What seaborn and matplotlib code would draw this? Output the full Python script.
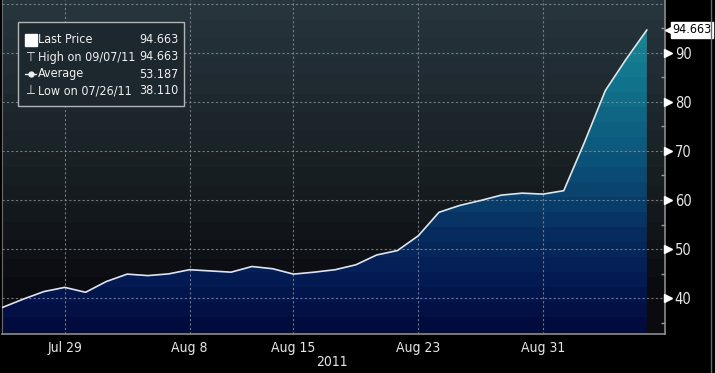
import numpy as np
import pandas as pd
import matplotlib
matplotlib.use("Agg")
import matplotlib.pyplot as plt
import matplotlib.transforms as mtransforms
from matplotlib.colors import LinearSegmentedColormap
from matplotlib.lines import Line2D
from matplotlib.patches import Rectangle
import seaborn as sns

# data (business days, 26 Jul - 7 Sep 2011)
dates = pd.bdate_range("2011-07-26", "2011-09-07")
prices = [38.11, 39.8, 41.35, 42.2, 41.2, 43.4, 44.9, 44.6, 44.95, 45.8,
          45.55, 45.3, 46.45, 46.0, 44.9, 45.3, 45.8, 46.8, 48.8, 49.7,
          52.7, 57.5, 58.9, 59.9, 61.0, 61.4, 61.2, 61.9, 71.8, 82.3,
          88.7, 94.663]

tick_dates = ["2011-07-29", "2011-08-08", "2011-08-15", "2011-08-23", "2011-08-31"]
tick_labels = ["Jul 29", "Aug 8", "Aug 15", "Aug 23", "Aug 31"]
y_ticks = [40, 50, 60, 70, 80, 90]
y_grid = [40, 50, 60, 70, 80, 90, 100]
y_minor = [35, 45, 55, 65, 75, 85, 95]

legend_labels = ["Last Price", "High on 09/07/11", "Average", "Low on 07/26/11"]
legend_values = ["94.663", "94.663", "53.187", "38.110"]
last_price = 94.663

sns.set_theme(style="dark")
plt.rcParams["font.family"] = ["DejaVu Sans"]
plt.rcParams["font.stretch"] = "condensed"

df = pd.DataFrame({"date": dates, "price": prices})
df["pos"] = np.arange(len(df))
tick_pos = [int(np.where(dates == pd.Timestamp(d))[0][0]) for d in tick_dates]

fig = plt.figure(figsize=(7.15, 3.73), dpi=100, facecolor="black")
ax = fig.add_axes([2 / 715, 1 - 334 / 373, 663 / 715, 334 / 373])
y0, y1 = 32.7, 100.75
x0, x1 = -0.02, 31.87
ax.set_xlim(x0, x1)
ax.set_ylim(y0, y1)
ax.set_facecolor("black")

# banded background of the plot area
bg_cmap = LinearSegmentedColormap.from_list("bg", [
    (0.0, "#0a0a0f"), (0.14, "#0b0c11"), (0.26, "#101318"),
    (0.40, "#151b1f"), (0.55, "#1a2227"), (0.75, "#1f2a31"), (1.0, "#26343c")], N=18)
grad = np.linspace(0, 1, 200).reshape(-1, 1)
ax.imshow(grad, extent=[x0, x1, y0, y1], origin="lower", aspect="auto",
          cmap=bg_cmap, interpolation="nearest", zorder=0)

# gradient area under the line
fill_cmap = LinearSegmentedColormap.from_list("fill", [
    (0.0, "#020b3e"), (0.12, "#031852"), (0.28, "#062c5e"),
    (0.42, "#0a436e"), (0.57, "#0c5a7d"), (0.72, "#106e89"), (0.90, "#178392"),
    (1.0, "#1a8a98")], N=22)
poly = ax.fill_between(df["pos"], df["price"], y0, facecolor="none", edgecolor="none")
im = ax.imshow(grad, extent=[x0, x1, y0, y1], origin="lower", aspect="auto",
               cmap=fill_cmap, interpolation="nearest", zorder=1)
im.set_clip_path(poly.get_paths()[0], ax.transData)

# grid
for y in y_grid:
    ax.axhline(y, color="#8a9096", lw=0.8, ls=(0, (2, 2)), alpha=0.8, zorder=2)
for p in tick_pos:
    ax.axvline(p, color="#8a9096", lw=0.8, ls=(0, (2, 2)), alpha=0.8, zorder=2)

sns.lineplot(data=df, x="pos", y="price", color="#e4e4e4", lw=1.2, ax=ax, zorder=4)
ax.set_xlabel("")
ax.set_ylabel("")

# axes styling
ax.spines["top"].set_visible(False)
for s in ["bottom", "right"]:
    ax.spines[s].set_color("#8c8c8c")
    ax.spines[s].set_linewidth(1.2)
ax.spines["left"].set_color("#6c6c6c")
ax.spines["left"].set_linewidth(0.8)

ax.set_xticks(tick_pos)
ax.set_xticklabels(tick_labels)
ax.set_xticks(df["pos"], minor=True)
ax.tick_params(axis="x", which="major", length=0, pad=5, labelsize=10, colors="#e6e6e6")
ax.tick_params(axis="x", which="minor", direction="in", length=3, width=1, color="#9a9a9a")

ax.yaxis.tick_right()
ax.set_yticks(y_ticks)
ax.set_yticklabels([str(v) for v in y_ticks])
ax.set_yticks(y_minor, minor=True)
ax.tick_params(axis="y", which="major", length=0, pad=7, labelsize=10.5, colors="#e6e6e6")
ax.tick_params(axis="y", which="minor", direction="in", length=3, width=1, color="#9a9a9a",
               left=False, right=True)

# tick triangles on the right axis
tr = mtransforms.blended_transform_factory(ax.transAxes, ax.transData)
ax.plot([1.0052] * len(y_ticks), y_ticks, marker=">", ls="none", ms=5.5,
        color="white", transform=tr, clip_on=False, zorder=6)

# last price tag
ax.plot([1.0065], [last_price], marker="<", ls="none", ms=6, color="white",
        transform=tr, clip_on=False, zorder=6)
ax.text(1.0115, last_price, f"{last_price:.3f}", transform=tr, ha="left", va="center",
        fontsize=9, color="black", clip_on=False, zorder=7,
        bbox=dict(boxstyle="square,pad=0.12", facecolor="white", edgecolor="white"))

fig.text(332 / 715, 1 - 362 / 373, "2011", ha="center", va="center",
         fontsize=10, color="#e6e6e6")
fig.add_artist(Line2D([711 / 715, 711 / 715], [0, 1], color="#6a6a6a", lw=1))

# legend box
def ax_x(px):
    return (px - 2) / 663

def ax_y(py):
    return 1 - py / 334

ax.add_patch(Rectangle((ax_x(18), ax_y(106)), ax_x(184) - ax_x(18), ax_y(22) - ax_y(106),
                       transform=ax.transAxes, facecolor="#1d272e", edgecolor="#b4b4b4",
                       lw=1, zorder=8))
row_y = [39.5, 57, 74, 91]
for label, value, py in zip(legend_labels, legend_values, row_y):
    ax.text(ax_x(38), ax_y(py), label, transform=ax.transAxes, ha="left", va="center",
            fontsize=9, color="#f0f0f0", zorder=9)
    ax.text(ax_x(178), ax_y(py), value, transform=ax.transAxes, ha="right", va="center",
            fontsize=9, color="#f0f0f0", zorder=9)
ax.plot([ax_x(30.5)], [ax_y(row_y[0])], marker="s", ms=8, color="white",
        transform=ax.transAxes, zorder=9)
ax.text(ax_x(30.5), ax_y(row_y[1]), "\u22a4", transform=ax.transAxes, ha="center",
        va="center", fontsize=9, color="#f0f0f0", zorder=9)
ax.plot([ax_x(25), ax_x(36)], [ax_y(row_y[2])] * 2, color="#f0f0f0", lw=1,
        transform=ax.transAxes, zorder=9)
ax.plot([ax_x(30.5)], [ax_y(row_y[2])], marker="o", ms=3.5, color="#f0f0f0",
        transform=ax.transAxes, zorder=9)
ax.text(ax_x(30.5), ax_y(row_y[3]), "\u22a5", transform=ax.transAxes, ha="center",
        va="center", fontsize=9, color="#f0f0f0", zorder=9)

fig.savefig("out.png", dpi=100, facecolor="black")
